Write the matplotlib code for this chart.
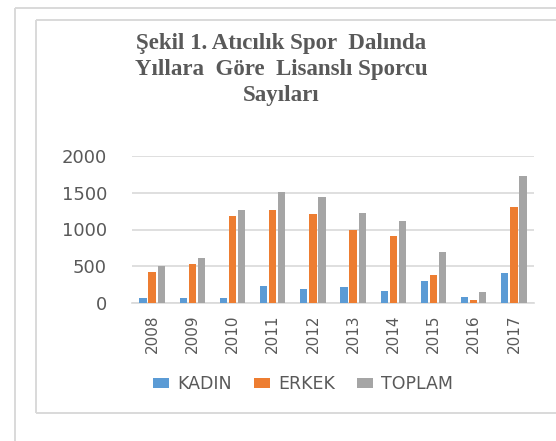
import matplotlib
matplotlib.use("Agg")
import matplotlib.pyplot as plt
from matplotlib.patches import Patch
import numpy as np

years = ["2008", "2009", "2010", "2011", "2012", "2013", "2014", "2015", "2016", "2017"]
kadin = [68, 68, 68, 235, 194, 217, 172, 298, 90, 407]
erkek = [420, 528, 1179, 1264, 1206, 993, 908, 384, 45, 1310]
toplam = [505, 614, 1264, 1512, 1436, 1224, 1120, 700, 149, 1730]
series_names = ["KADIN", "ERKEK", "TOPLAM"]
colors = ["#5B9BD5", "#ED7D31", "#A5A5A5"]
yticks = [0, 500, 1000, 1500, 2000]
title = "Şekil 1. Atıcılık Spor  Dalında\nYıllara  Göre  Lisanslı Sporcu\nSayıları"

W, H = 556, 441
fig = plt.figure(figsize=(W / 100, H / 100), dpi=100)
fig.patch.set_facecolor("white")

def fx(px):
    return px / W

def fy(py):
    return 1 - py / H

frame_col = "#D9D9D9"
def line(x0, y0, x1, y1):
    fig.add_artist(plt.Line2D([fx(x0), fx(x1)], [fy(y0), fy(y1)], color=frame_col,
                              lw=1.4, transform=fig.transFigure, solid_capstyle="butt"))
# outer frame
line(14.7, 8, 14.7, 445)
line(14.7, 8, 570, 8)
# inner frame
line(36, 20, 36, 413)
line(36, 20, 570, 20)
line(36, 413, 570, 413)

ax = fig.add_axes([fx(132), fy(303.3), fx(534) - fx(132), fy(155.7) - fy(303.3)])
x = np.arange(len(years))
w = 0.18
off = 0.225
for i, (vals, c, n) in enumerate(zip([kadin, erkek, toplam], colors, series_names)):
    ax.bar(x + (i - 1) * off, vals, width=w, color=c, label=n, zorder=3)

ax.set_xlim(-0.5, len(years) - 0.5)
ax.set_ylim(0, 2000)
ax.set_yticks(yticks)
ax.set_yticklabels([str(v) for v in yticks])
ax.set_xticks(x)
ax.set_xticklabels(years, rotation=90)
ax.yaxis.grid(True, color=frame_col, lw=1.2, zorder=0)
ax.set_axisbelow(True)
for s in ["top", "right", "left"]:
    ax.spines[s].set_visible(False)
ax.spines["bottom"].set_color(frame_col)
ax.spines["bottom"].set_linewidth(1.2)
ax.tick_params(axis="both", length=0, colors="#595959")
ax.tick_params(axis="y", labelsize=13, pad=18)
ax.tick_params(axis="x", labelsize=11, pad=8)

fig.text(fx(281), fy(33), title, ha="center", va="top", family="Liberation Serif",
         fontweight="bold", fontsize=16.5, color="#595959", linespacing=1.3)

handles = [Patch(facecolor=c, edgecolor="none") for c in colors]
leg = fig.legend(handles, series_names, loc="center", bbox_to_anchor=(fx(303), fy(384)),
                 ncol=3, frameon=False, fontsize=12.5, handlelength=0.92, handleheight=0.57,
                 handletextpad=0.45, columnspacing=1.3, labelcolor="#595959")

fig.savefig("out.png", dpi=100, facecolor="white")
